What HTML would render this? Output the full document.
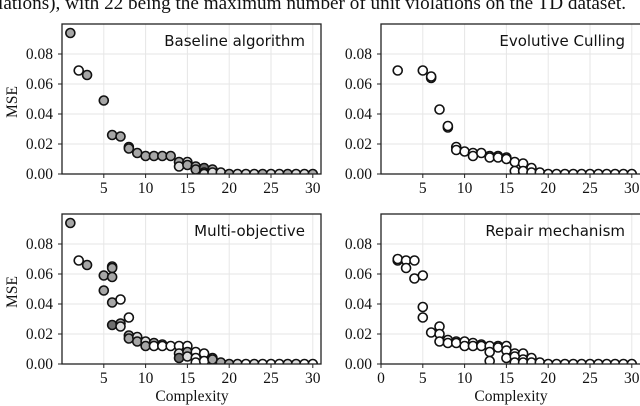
<!DOCTYPE html>
<html><head><meta charset="utf-8">
<style>
html,body{margin:0;padding:0;background:#fff;width:640px;height:406px;overflow:hidden}
svg{display:block}
.serif{font-family:"Liberation Serif","DejaVu Serif",serif}
.sans{font-family:"DejaVu Sans","Liberation Sans",sans-serif}
</style></head>
<body>
<svg id="fig" width="640" height="406" viewBox="0 0 640 406" xmlns="http://www.w3.org/2000/svg">
<text class="serif" x="-2" y="9" font-size="19" textLength="628" lengthAdjust="spacingAndGlyphs" fill="#111">lations), with 22 being the maximum number of unit violations on the TD dataset.</text>
</svg>
<script>
const xTicks=[5,10,15,20,25,30];
const xTicksBR=[0,5,10,15,20,25,30];
const yTicks=[0,0.02,0.04,0.06,0.08];
const yTickLabels=["0.00","0.02","0.04","0.06","0.08"];
const fills={w:"#ffffff",l:"#dddddd",g:"#a6a6a6",d:"#6e6e6e"};
const baselineX=[1,2,3,5,6,7,8,8,9,10,11,12,13,14,14,15,15,16,16,17,17,17,18,18,19,20,21,22,23,24,25,26,27,28,29,30];
const baselineY=[0.094,0.069,0.066,0.049,0.026,0.025,0.018,0.017,0.014,0.012,0.012,0.012,0.012,0.008,0.005,0.008,0.006,0.005,0.003,0.004,0.001,0,0.003,0.001,0.001,0,0,0,0,0,0,0,0,0,0,0];
const baselineF=["g","w","g","g","g","g","g","g","g","g","g","g","g","g","l","l","g","g","g","d","g","l","g","l","l","g","l","l","l","g","l","l","g","l","l","g"];
const evoX=[2,5,6,6,7,8,8,9,9,10,11,11,12,13,13,14,14,15,15,16,16,17,17,18,18,19,20,21,22,23,24,25,26,27,28,29,30];
const evoY=[0.069,0.069,0.064,0.065,0.043,0.031,0.032,0.018,0.016,0.015,0.014,0.012,0.014,0.012,0.011,0.012,0.011,0.011,0.010,0.008,0.002,0.007,0.002,0.004,0.001,0.001,0,0,0,0,0,0,0,0,0,0,0];
const evoF=evoX.map(()=> "w");
const multiX=[1,2,3,5,5,6,6,6,6,6,7,7,7,8,8,8,9,9,10,10,11,11,12,12,13,14,14,14,15,15,15,16,16,16,17,17,18,18,19,20,21,22,23,24,25,26,27,28,29,30];
const multiY=[0.094,0.069,0.066,0.059,0.049,0.065,0.064,0.058,0.041,0.026,0.043,0.027,0.025,0.031,0.019,0.017,0.018,0.015,0.015,0.012,0.014,0.012,0.013,0.012,0.012,0.012,0.007,0.004,0.012,0.008,0.005,0.008,0.004,0.001,0.007,0.002,0.004,0.003,0.001,0,0,0,0,0,0,0,0,0,0,0];
const multiF=["g","w","g","g","g","w","g","g","g","d","w","g","l","w","g","g","l","g","l","g","g","w","w","w","w","w","l","d","w","g","l","w","w","w","w","w","w","g","g","g","l","w","l","w","w","w","l","l","w","w"];
const repX=[2,2,3,3,4,4,5,5,5,6,7,7,7,8,8,9,9,10,10,11,11,12,12,13,13,13,14,14,15,15,15,16,16,16,17,17,17,18,18,19,20,21,22,23,24,25,26,27,28,29,30];
const repY=[0.069,0.070,0.069,0.064,0.069,0.057,0.059,0.038,0.031,0.021,0.025,0.020,0.015,0.016,0.014,0.015,0.014,0.015,0.012,0.014,0.012,0.013,0.012,0.012,0.008,0.002,0.012,0.011,0.012,0.009,0.004,0.007,0.005,0.001,0.007,0.003,0.001,0.004,0.001,0.001,0,0,0,0,0,0,0,0,0,0,0];
const repF=repX.map(()=> "w");

const NS="http://www.w3.org/2000/svg";
const svg=document.getElementById('fig');
function mk(tag,attrs,parent){const e=document.createElementNS(NS,tag);for(const k in attrs)e.setAttribute(k,attrs[k]);(parent||svg).appendChild(e);return e;}

const panels=[
 {id:"baseline",title:"Baseline algorithm",L:62,T:24,W:259,B:174,xs:baselineX,ys:baselineY,fs:baselineF,ylabel:true,xlabel:false,xt:xTicks},
 {id:"evolutive",title:"Evolutive Culling",L:381,T:24,W:260,B:174,xs:evoX,ys:evoY,fs:evoF,ylabel:false,xlabel:false,xt:xTicks},
 {id:"multi",title:"Multi-objective",L:62,T:214,W:259,B:364,xs:multiX,ys:multiY,fs:multiF,ylabel:true,xlabel:true,xt:xTicks},
 {id:"repair",title:"Repair mechanism",L:381,T:214,W:260,B:364,xs:repX,ys:repY,fs:repF,ylabel:false,xlabel:true,xt:xTicksBR}
];
panels.forEach(p=>{
  const xs=v=>p.L+v*8.36;
  const ys=v=>p.B-(v/0.1)*(p.B-p.T);
  const g=mk('g',{});
  
  
  const cp=mk('clipPath',{id:'cp-'+p.id},g);
  mk('rect',{x:p.L,y:p.T,width:p.W,height:p.B-p.T},cp);
  p.xt.forEach(t=>{const l=mk('line',{x1:xs(t),x2:xs(t),y1:p.T,y2:p.B,stroke:"#e6e6e6","stroke-width":1},g);
    });
  yTicks.forEach(t=>{const l=mk('line',{x1:p.L,x2:p.L+p.W,y1:ys(t),y2:ys(t),stroke:"#e6e6e6","stroke-width":1},g);
    });
  const pg=mk('g',{'clip-path':'url(#cp-'+p.id+')'},g);
  p.xs.forEach((x,i)=>{
    const c=mk('circle',{cx:xs(x),cy:ys(p.ys[i]),r:4.5,fill:fills[p.fs[i]],stroke:"#111","stroke-width":1.6},pg);
    
    
  });
  const fr=mk('rect',{x:p.L,y:p.T,width:p.W,height:p.B-p.T,fill:"none",stroke:"#222","stroke-width":1.3},g);
  
  yTicks.forEach((t,i)=>{
    mk('line',{x1:p.L-4,x2:p.L,y1:ys(t),y2:ys(t),stroke:"#222","stroke-width":1},g);
    const tx=mk('text',{x:p.L-9,y:ys(t)+5,'text-anchor':'end','font-size':15.5,fill:"#111",class:"serif"},g);
    tx.textContent=yTickLabels[i];
    
  });
  p.xt.forEach(t=>{
    mk('line',{x1:xs(t),x2:xs(t),y1:p.B,y2:p.B+4,stroke:"#222","stroke-width":1},g);
    const tx=mk('text',{x:xs(t),y:p.B+19,'text-anchor':'middle','font-size':15.5,fill:"#111",class:"serif"},g);
    tx.textContent=String(t);
    
  });
  const tt=mk('text',{x:p.L+p.W-16,y:p.T+22,'text-anchor':'end','font-size':15,fill:"#111",class:"sans"},g);
  tt.textContent=p.title;
  
  if(p.ylabel){
    const yl=mk('text',{x:0,y:0,'text-anchor':'middle','font-size':15.5,fill:"#111",class:"serif",transform:`translate(17,${(p.T+p.B)/2+3}) rotate(-90)`},g);
    yl.textContent="MSE";
    
  }
  if(p.xlabel){
    const xl=mk('text',{x:p.L+130,y:401,'text-anchor':'middle','font-size':15.5,fill:"#111",class:"serif"},g);
    xl.textContent="Complexity";
    
  }
});
</script>
</body></html>
